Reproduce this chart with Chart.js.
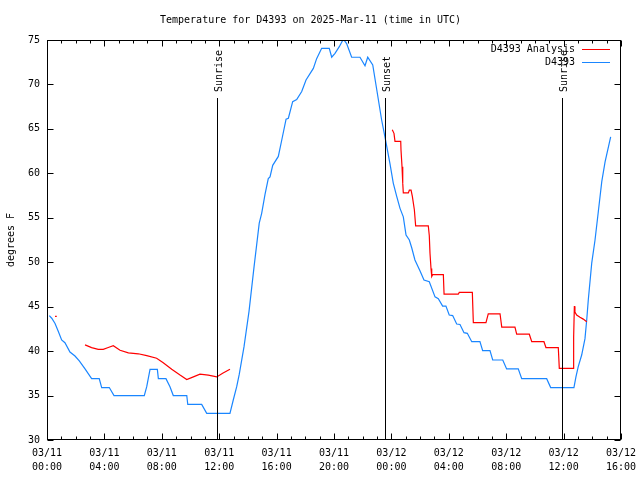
<!DOCTYPE html>
<html>
<head>
<meta charset="utf-8">
<script src="https://cdn.jsdelivr.net/npm/chart.js@4"></script>
<style>
  html, body { margin: 0; padding: 0; background: #fff; }
  #c { display: block; }
</style>
</head>
<body>
<canvas id="c" width="640" height="480"></canvas>
<script>
// ---- data (hours since 03/11 00:00 UTC) ----
const titleText = 'Temperature for D4393 on 2025-Mar-11 (time in UTC)';
const yTitle = 'degrees F';
const seriesNames = ['D4393 Analysis', 'D4393'];
const xTickDates = ['03/11','03/11','03/11','03/11','03/11','03/11','03/12','03/12','03/12','03/12','03/12'];
const xTickTimes = ['00:00','04:00','08:00','12:00','16:00','20:00','00:00','04:00','08:00','12:00','16:00'];

const obsHours = [0.16,0.33,0.56,0.79,1.02,1.25,1.60,1.95,2.25,2.65,3.11,3.64,3.81,4.34,4.67,6.78,6.95,7.18,7.69,7.76,8.29,8.57,8.80,9.74,9.81,10.78,11.13,12.75,12.98,13.22,13.40,13.73,14.08,14.43,14.79,14.96,15.19,15.42,15.54,15.73,16.12,16.36,16.66,16.82,17.12,17.40,17.75,18.05,18.56,18.79,19.14,19.67,19.84,20.07,20.37,20.65,20.88,21.23,21.81,22.16,22.35,22.70,22.98,23.32,23.55,23.90,24.13,24.37,24.60,24.83,25.02,25.25,25.42,25.64,25.99,26.27,26.64,27.04,27.27,27.57,27.80,28.03,28.27,28.55,28.78,29.06,29.29,29.60,30.17,30.36,30.87,31.06,31.76,32.03,32.84,33.08,34.82,35.10,36.72,36.86,37.02,37.26,37.49,37.61,37.72,37.96,38.19,38.42,38.66,38.89,39.28];
const obsTemps = [44.0,43.7,43.1,42.2,41.25,40.95,39.9,39.45,38.9,38.0,36.9,36.9,35.9,35.9,35.0,35.0,36.0,37.95,37.95,36.9,36.9,36.0,35.0,35.0,34.0,34.0,33.0,33.0,34.5,36.0,37.4,40.5,44.5,49.5,54.4,55.5,57.6,59.4,59.6,60.9,61.9,63.75,66.1,66.2,68.06,68.3,69.2,70.5,71.8,72.9,74.06,74.06,73.06,73.5,74.25,75.1,74.6,73.06,73.06,72.1,73.06,72.2,69.4,66.0,64.1,61.1,58.9,57.4,56.06,55.1,53.06,52.5,51.6,50.25,49.05,48.0,47.8,46.1,45.9,45.06,45.06,44.06,44.0,43.05,43.0,42.07,42.0,41.06,41.06,40.05,40.05,39.0,39.0,38.0,38.0,36.9,36.9,35.9,35.9,37.1,38.25,39.56,41.4,43.5,45.75,49.9,52.5,55.7,59.06,61.3,64.1];

const anaHours = [0.56,0.68,1.5,2.65,3.11,3.57,3.92,4.27,4.62,5.09,5.67,6.36,6.95,7.64,8.10,8.69,9.27,9.74,10.20,10.66,11.24,11.83,12.24,12.75,18.0,24.06,24.18,24.25,24.65,24.67,24.74,24.79,24.83,25.18,25.25,25.37,25.46,25.60,25.69,26.57,26.64,26.69,26.76,26.81,26.88,27.62,27.67,28.66,28.73,29.64,29.71,30.59,30.75,31.57,31.69,32.61,32.73,33.61,33.78,34.63,34.77,35.63,35.70,36.68,36.70,36.75,36.79,36.91,37.14,37.37,37.61];
const anaTemps = [43.9,43.9,null,40.7,40.4,40.2,40.2,40.4,40.6,40.1,39.8,39.7,39.5,39.2,38.7,37.95,37.3,36.8,37.1,37.4,37.3,37.1,37.5,37.95,null,64.9,64.5,63.6,63.6,62.6,60.75,58.9,57.8,57.8,58.1,58.1,57.4,55.9,54.1,54.1,53.0,51.0,49.3,48.4,48.6,48.6,46.4,46.4,46.6,46.6,43.2,43.2,44.2,44.2,42.7,42.7,41.9,41.9,41.06,41.06,40.4,40.4,38.06,38.06,41.6,45.06,44.4,44.06,43.8,43.6,43.3];

const eventHours = [11.85, 23.55, 35.89];
const eventLabels = ['Sunrise', 'Sunset', 'Sunrise'];

// ---- chart ----
const FONT = "'DejaVu Sans Mono', 'Liberation Mono', monospace";
Chart.defaults.font.family = FONT;
Chart.defaults.font.size = 10;
Chart.defaults.color = '#000';

const RED = '#ff0000';
const BLUE = '#1a86ff';

const toPts = (hs, ts) => hs.map((h, i) => ({ x: h, y: ts[i] }));

const bgPlugin = {
  id: 'bg',
  beforeDraw(chart) {
    const ctx = chart.ctx;
    ctx.save();
    ctx.fillStyle = '#fff';
    ctx.fillRect(0, 0, chart.width, chart.height);
    ctx.restore();
  }
};

const framePlugin = {
  id: 'frame',
  afterDatasetsDraw(chart) {
    const { ctx, chartArea: a, scales: { x, y } } = chart;
    ctx.save();
    ctx.strokeStyle = '#000';
    ctx.lineWidth = 1;
    // event lines and labels
    eventHours.forEach((h, i) => {
      const px = Math.round(x.getPixelForValue(h)) + 0.5;
      ctx.beginPath();
      ctx.moveTo(px, 98);
      ctx.lineTo(px, a.bottom);
      ctx.stroke();
      ctx.save();
      ctx.translate(px + 2, 92);
      ctx.rotate(-Math.PI / 2);
      ctx.fillStyle = '#000';
      ctx.font = '10px ' + FONT;
      ctx.textAlign = 'left';
      ctx.textBaseline = 'middle';
      ctx.fillText(eventLabels[i], 0, 0);
      ctx.restore();
    });
    // border
    const L = Math.round(a.left) + 0.5, R = Math.round(a.right) - 0.5;
    const T = Math.round(a.top) + 0.5, B = Math.round(a.bottom) - 0.5;
    ctx.strokeRect(L, T, R - L, B - T);
    // ticks
    ctx.beginPath();
    for (let h = x.min; h <= x.max; h += 1) {
      const px = Math.round(x.getPixelForValue(h)) + 0.5;
      const len = (h % 4 === 0) ? 6 : 3;
      ctx.moveTo(px, B); ctx.lineTo(px, B - len);
      ctx.moveTo(px, T); ctx.lineTo(px, T + len);
    }
    for (let v = y.min; v <= y.max; v += 5) {
      const py = Math.round(y.getPixelForValue(v)) + 0.5;
      ctx.moveTo(L, py); ctx.lineTo(L + 6, py);
      ctx.moveTo(R, py); ctx.lineTo(R - 6, py);
    }
    ctx.stroke();
    // legend
    const colors = [RED, BLUE];
    ctx.font = '10px ' + FONT;
    ctx.textAlign = 'right';
    ctx.textBaseline = 'middle';
    seriesNames.forEach((n, i) => {
      const yy = 49 + i * 13;
      ctx.fillStyle = '#000';
      ctx.fillText(n, 575, yy);
      ctx.strokeStyle = colors[i];
      ctx.beginPath();
      ctx.moveTo(582, yy + 0.5);
      ctx.lineTo(610, yy + 0.5);
      ctx.stroke();
    });
    ctx.restore();
  }
};

new Chart(document.getElementById('c'), {
  type: 'line',
  data: {
    datasets: [
      {
        label: seriesNames[0],
        data: toPts(anaHours, anaTemps),
        borderColor: RED,
        borderWidth: 1.2,
        pointRadius: 0,
        tension: 0,
        spanGaps: false,
        fill: false
      },
      {
        label: seriesNames[1],
        data: toPts(obsHours, obsTemps),
        borderColor: BLUE,
        borderWidth: 1.2,
        pointRadius: 0,
        tension: 0,
        fill: false
      }
    ]
  },
  options: {
    responsive: false,
    animation: false,
    devicePixelRatio: 1,
    layout: { padding: { left: 0, right: 19, top: 0, bottom: 0 } },
    plugins: {
      legend: { display: false },
      tooltip: { enabled: false },
      title: {
        display: true,
        text: titleText,
        color: '#000',
        font: { family: FONT, size: 10, weight: 'normal', lineHeight: 1.2 },
        padding: { top: 14, bottom: 14 }
      }
    },
    scales: {
      x: {
        type: 'linear',
        min: 0,
        max: 40,
        grid: { display: false, drawTicks: false },
        border: { display: false },
        afterFit(s) { s.height = 40; s.paddingLeft = 0; s.paddingRight = 0; },
        afterBuildTicks(s) {
          s.ticks = xTickTimes.map((_, i) => ({ value: i * 4 }));
        },
        ticks: {
          autoSkip: false,
          maxRotation: 0,
          minRotation: 0,
          padding: 7,
          font: { family: FONT, size: 10, lineHeight: 1.35 },
          callback(v) {
            const i = Math.round(v / 4);
            return [xTickDates[i], xTickTimes[i]];
          }
        }
      },
      y: {
        min: 30,
        max: 75,
        grid: { display: false, drawTicks: false },
        border: { display: false },
        afterFit(s) { s.width = 47; s.paddingTop = 0; s.paddingBottom = 0; },
        ticks: { stepSize: 5, padding: 7, font: { family: FONT, size: 10 } },
        title: {
          display: true,
          text: yTitle,
          color: '#000',
          font: { family: FONT, size: 10, lineHeight: 1.2 },
          padding: { top: 5, bottom: 0 }
        }
      }
    }
  },
  plugins: [bgPlugin, framePlugin]
});
</script>
</body>
</html>
